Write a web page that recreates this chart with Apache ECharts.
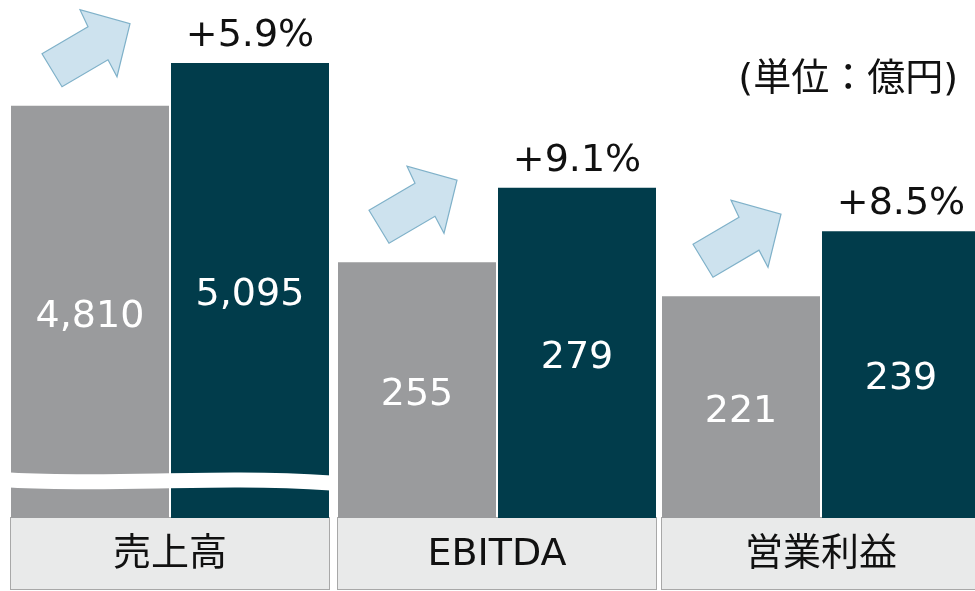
<!DOCTYPE html>
<html><head><meta charset="utf-8">
<script src="https://cdn.jsdelivr.net/npm/echarts@6/dist/echarts.min.js"></script>
<style>html,body{margin:0;padding:0;background:#fff}#c{width:975px;height:591px}</style>
</head><body><div id="c"></div>
<script>
// ---- data ----
const categories = ['売上高', 'EBITDA', '営業利益'];
const prevValues = [4810, 255, 221];
const currValues = [5095, 279, 239];
const growthLabels = ['+5.9%', '+9.1%', '+8.5%'];
const unitLabel = '(単位：億円)';

// ---- layout / styling ----
const FONT = '"DejaVu Sans", "Noto Sans CJK JP", sans-serif';
const GRAY = '#9a9b9d', TEAL = '#013c4b';
const gridLefts = [10, 337, 661];
const yRanges = [[2058, 5516], [172.5, 339.6], [159.6, 303.0]];
const BW = 158;

const chart = echarts.init(document.getElementById('c'));
const grids = [], xAxes = [], yAxes = [], series = [];
categories.forEach((name, i) => {
  grids.push({left: gridLefts[i], width: 320, top: 0, bottom: 73, containLabel: false, outerBoundsMode: 'none'});
  xAxes.push({type: 'category', gridIndex: i, data: ['prev', 'curr'],
    axisLine: {show: false}, axisTick: {show: false}, axisLabel: {show: false}});
  xAxes.push({type: 'category', gridIndex: i, position: 'bottom', data: [name],
    axisLine: {show: false}, axisTick: {show: false},
    axisLabel: {show: true, interval: 0, margin: 0, width: 318, height: 71, lineHeight: 74,
      align: 'center', verticalAlign: 'top', backgroundColor: '#e9eaea',
      borderColor: '#a8a8a8', borderWidth: 1, fontSize: 38, color: '#111', fontFamily: FONT}});
  yAxes.push({type: 'value', gridIndex: i, min: yRanges[i][0], max: yRanges[i][1], show: false,
    splitLine: {show: false}});
  const valueLabel = {show: true, position: 'inside', offset: [0, 5], color: '#fff', fontSize: 38, fontFamily: FONT,
    formatter: p => p.value.toLocaleString('en-US')};
  series.push({type: 'bar', xAxisIndex: 2 * i, yAxisIndex: i, barWidth: BW, barGap: '-100%',
    data: [prevValues[i], '-'], itemStyle: {color: GRAY}, label: valueLabel, silent: true});
  series.push({type: 'bar', xAxisIndex: 2 * i, yAxisIndex: i, barWidth: BW, barGap: '-100%',
    data: ['-', currValues[i]], itemStyle: {color: TEAL}, label: valueLabel, silent: true});
  series.push({type: 'bar', xAxisIndex: 2 * i, yAxisIndex: i, barWidth: BW, barGap: '-100%',
    data: ['-', currValues[i]], itemStyle: {color: 'rgba(0,0,0,0)'}, silent: true, z: 5,
    label: {show: true, position: 'top', distance: 8, color: '#111', fontSize: 38, fontFamily: FONT,
      formatter: () => growthLabels[i]}});
});

chart.setOption({
  animation: false,
  backgroundColor: '#fff',
  grid: grids, xAxis: xAxes, yAxis: yAxes, series: series,
  title: {text: unitLabel, right: 12, top: 56, textStyle: {fontSize: 38, fontWeight: 'normal', color: '#111', fontFamily: FONT}}
});

// ---- decorations placed from the data scales ----
const arrowOffsets = [[31,-52],[77,-79],[69,-96],[119,-82],[106,-29],[97,-46],[51,-19]];
const graphics = [];
categories.forEach((name, i) => {
  const p = chart.convertToPixel({xAxisIndex: 2 * i, yAxisIndex: i}, [0, prevValues[i]]);
  const left = p[0] - BW / 2, top = p[1];
  graphics.push({type: 'polygon', z: 10,
    shape: {points: arrowOffsets.map(o => [left + o[0], top + o[1]])},
    style: {fill: '#cde2ee', stroke: '#7fb1c9', lineWidth: 1.2}});
});
// break mark on first group
const b0 = chart.convertToPixel({xAxisIndex: 0, yAxisIndex: 0}, [0, yRanges[0][0]]);
const x0 = b0[0] - BW / 2 - 1, yb = b0[1] - 37;
graphics.push({type: 'bezierCurve', z: 10,
  shape: {x1: x0, y1: yb - 1, cpx1: x0 + 110, cpy1: yb + 5, cpx2: x0 + 200, cpy2: yb - 6, x2: x0 + 321, y2: yb + 2},
  style: {stroke: '#fff', lineWidth: 15, fill: null}});
chart.setOption({graphic: graphics});
</script></body></html>
